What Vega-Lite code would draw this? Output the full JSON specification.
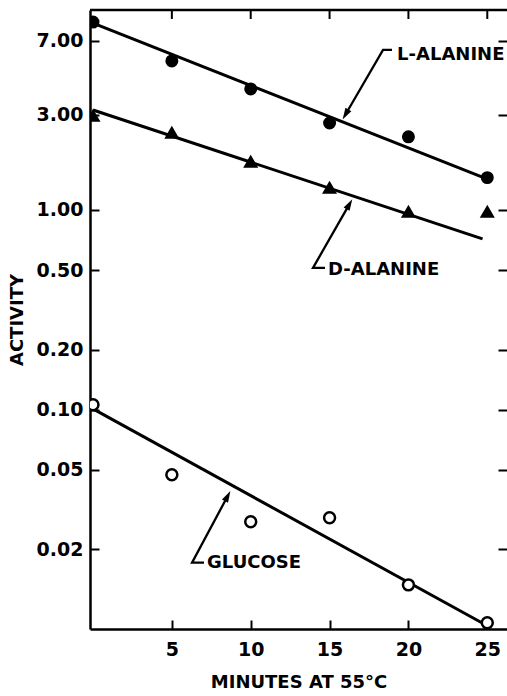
{
  "$schema": "https://vega.github.io/schema/vega-lite/v6.json",
  "width": 417,
  "height": 619,
  "autosize": {"type": "none"},
  "padding": {"left": 90, "top": 10, "right": 0, "bottom": 67},
  "background": "white",
  "config": {
    "view": {"stroke": null},
    "axis": {
      "grid": false,
      "domainColor": "black",
      "domainWidth": 2.5,
      "tickColor": "black",
      "tickWidth": 2,
      "tickSize": -9,
      "labelFont": "DejaVu Sans",
      "labelFontWeight": "bold",
      "labelFontSize": 19,
      "labelColor": "black",
      "titleFont": "DejaVu Sans",
      "titleFontWeight": "bold",
      "titleFontSize": 18,
      "titleColor": "black"
    }
  },
  "datasets": {
    "fits": [
      {"series": "L-alanine", "x": 0, "y": 8.6},
      {"series": "L-alanine", "x": 24.85, "y": 1.44},
      {"series": "D-alanine", "x": 0, "y": 3.16},
      {"series": "D-alanine", "x": 24.7, "y": 0.716},
      {"series": "Glucose", "x": 0, "y": 0.101},
      {"series": "Glucose", "x": 25, "y": 0.0083}
    ],
    "obs": [
      {"series": "L-alanine", "x": 0, "y": 8.7},
      {"series": "L-alanine", "x": 5, "y": 5.56},
      {"series": "L-alanine", "x": 10, "y": 4.03},
      {"series": "L-alanine", "x": 15, "y": 2.72},
      {"series": "L-alanine", "x": 20, "y": 2.32},
      {"series": "L-alanine", "x": 25, "y": 1.45},
      {"series": "D-alanine", "x": 0, "y": 2.95},
      {"series": "D-alanine", "x": 5, "y": 2.43},
      {"series": "D-alanine", "x": 10, "y": 1.74},
      {"series": "D-alanine", "x": 15, "y": 1.29},
      {"series": "D-alanine", "x": 20, "y": 0.977},
      {"series": "D-alanine", "x": 25, "y": 0.977},
      {"series": "Glucose", "x": 0, "y": 0.106},
      {"series": "Glucose", "x": 5, "y": 0.0473},
      {"series": "Glucose", "x": 10, "y": 0.0275},
      {"series": "Glucose", "x": 15, "y": 0.0288},
      {"series": "Glucose", "x": 20, "y": 0.0133},
      {"series": "Glucose", "x": 25, "y": 0.0086}
    ],
    "leaders": [
      {"label": "L-ALANINE", "order": 1, "x": 18.96, "y": 6.31},
      {"label": "L-ALANINE", "order": 2, "x": 18.39, "y": 6.31},
      {"label": "L-ALANINE", "order": 3, "x": 16.01, "y": 3.0},
      {"label": "D-ALANINE", "order": 1, "x": 14.71, "y": 0.513},
      {"label": "D-ALANINE", "order": 2, "x": 13.95, "y": 0.513},
      {"label": "D-ALANINE", "order": 3, "x": 16.26, "y": 1.068},
      {"label": "GLUCOSE", "order": 1, "x": 7.04, "y": 0.01718},
      {"label": "GLUCOSE", "order": 2, "x": 6.28, "y": 0.01718},
      {"label": "GLUCOSE", "order": 3, "x": 8.54, "y": 0.037}
    ],
    "arrows": [
      {"label": "L-ALANINE", "x": 16.01, "y": 3.0},
      {"label": "D-ALANINE", "x": 16.26, "y": 1.068},
      {"label": "GLUCOSE", "x": 8.54, "y": 0.037}
    ],
    "labels": [
      {"label": "L-ALANINE", "x": 19.28, "y": 5.96},
      {"label": "D-ALANINE", "x": 14.9, "y": 0.501},
      {"label": "GLUCOSE", "x": 7.23, "y": 0.01718}
    ],
    "topticks": [
      {"x": 5}, {"x": 10}, {"x": 15}, {"x": 20}, {"x": 25}
    ]
  },
  "layer": [
    {
      "data": {"name": "fits"},
      "mark": {"type": "line", "color": "black", "strokeWidth": 3, "clip": true},
      "encoding": {
        "detail": {"field": "series"},
        "x": {"field": "x", "type": "quantitative", "scale": {"domain": [-0.19, 26.25], "nice": false, "zero": false}, "axis": {"orient": "bottom", "values": [5, 10, 15, 20, 25], "title": "MINUTES AT 55°C", "labelPadding": 20, "titlePadding": 14}},
        "y": {"field": "y", "type": "quantitative", "scale": {"type": "log", "domain": [0.008, 10], "nice": false}, "axis": {"orient": "left", "values": [0.02, 0.05, 0.1, 0.2, 0.5, 1, 3, 7], "format": ".2f", "title": "ACTIVITY", "labelPadding": 16, "titlePadding": 10}}
      }
    },
    {
      "data": {"name": "fits"},
      "mark": {"type": "line", "opacity": 0},
      "encoding": {
        "detail": {"field": "series"},
        "x": {"field": "x", "type": "quantitative", "axis": null},
        "y": {"field": "y", "type": "quantitative", "axis": {"orient": "right", "values": [0.02, 0.05, 0.1, 0.2, 0.5, 1, 3, 7], "labels": false, "ticks": true, "title": null, "domain": false}}
      }
    },
    {
      "data": {"values": [{"edge": "top"}]},
      "mark": {"type": "rule", "color": "black", "strokeWidth": 2.5},
      "encoding": {"y": {"datum": 10, "type": "quantitative", "axis": null}}
    },
    {
      "data": {"name": "topticks"},
      "mark": {"type": "tick", "orient": "vertical", "size": 18, "thickness": 2, "color": "black", "opacity": 1, "clip": true},
      "encoding": {
        "x": {"field": "x", "type": "quantitative", "axis": null},
        "y": {"datum": 10, "type": "quantitative", "axis": null}
      }
    },
    {
      "data": {"name": "obs"},
      "mark": {"type": "point", "filled": true, "stroke": "black", "strokeWidth": 2.5, "opacity": 1, "clip": true},
      "encoding": {
        "x": {"field": "x", "type": "quantitative", "axis": null},
        "y": {"field": "y", "type": "quantitative", "axis": null},
        "shape": {"field": "series", "type": "nominal", "scale": {"domain": ["L-alanine", "D-alanine", "Glucose"], "range": ["circle", "triangle-up", "circle"]}, "legend": null},
        "fill": {"field": "series", "type": "nominal", "scale": {"domain": ["L-alanine", "D-alanine", "Glucose"], "range": ["black", "black", "white"]}, "legend": null},
        "size": {"field": "series", "type": "nominal", "scale": {"domain": ["L-alanine", "D-alanine", "Glucose"], "range": [110, 120, 60]}, "legend": null}
      }
    },
    {
      "data": {"name": "leaders"},
      "mark": {"type": "line", "color": "black", "strokeWidth": 2.3},
      "encoding": {
        "x": {"field": "x", "type": "quantitative", "axis": null},
        "y": {"field": "y", "type": "quantitative", "axis": null},
        "detail": {"field": "label"},
        "order": {"field": "order", "type": "quantitative"}
      }
    },
    {
      "data": {"name": "arrows"},
      "transform": [{"filter": "datum.label === 'L-ALANINE'"}],
      "mark": {"type": "point", "shape": "M0,-1L-0.6,1L0.6,1Z", "size": 130, "angle": 210.5, "filled": true, "color": "black", "opacity": 1},
      "encoding": {
        "x": {"field": "x", "type": "quantitative", "axis": null},
        "y": {"field": "y", "type": "quantitative", "axis": null}
      }
    },
    {
      "data": {"name": "arrows"},
      "transform": [{"filter": "datum.label === 'D-ALANINE'"}],
      "mark": {"type": "point", "shape": "M0,-1L-0.6,1L0.6,1Z", "size": 130, "angle": 29.9, "filled": true, "color": "black", "opacity": 1},
      "encoding": {
        "x": {"field": "x", "type": "quantitative", "axis": null},
        "y": {"field": "y", "type": "quantitative", "axis": null}
      }
    },
    {
      "data": {"name": "arrows"},
      "transform": [{"filter": "datum.label === 'GLUCOSE'"}],
      "mark": {"type": "point", "shape": "M0,-1L-0.6,1L0.6,1Z", "size": 130, "angle": 28.2, "filled": true, "color": "black", "opacity": 1},
      "encoding": {
        "x": {"field": "x", "type": "quantitative", "axis": null},
        "y": {"field": "y", "type": "quantitative", "axis": null}
      }
    },
    {
      "data": {"name": "labels"},
      "mark": {"type": "text", "align": "left", "baseline": "middle", "font": "DejaVu Sans", "fontWeight": "bold", "fontSize": 18, "color": "black"},
      "encoding": {
        "x": {"field": "x", "type": "quantitative", "axis": null},
        "y": {"field": "y", "type": "quantitative", "axis": null},
        "text": {"field": "label"}
      }
    }
  ],
  "resolve": {"axis": {"x": "independent", "y": "independent"}}
}
